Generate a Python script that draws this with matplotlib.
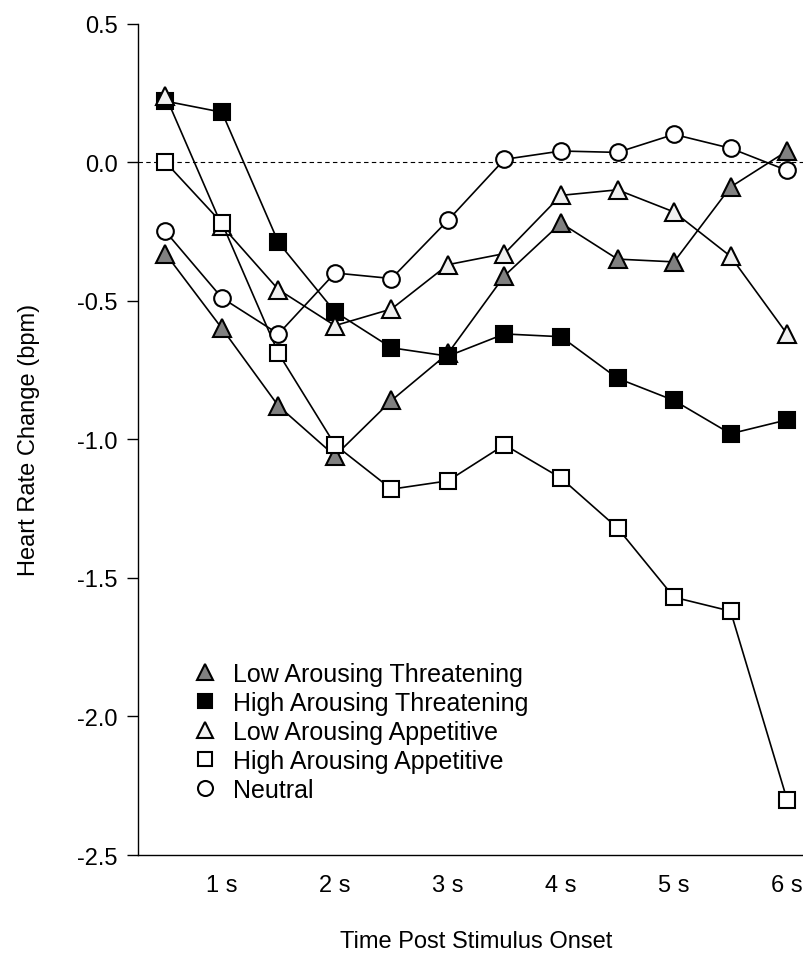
import numpy as np
import matplotlib
matplotlib.use('Agg')
import matplotlib.pyplot as plt

plt.rcParams['font.family'] = ['Liberation Sans', 'DejaVu Sans']
plt.rcParams['axes.unicode_minus'] = False

# time after stimulus onset (s), half second bins
time = [0.5, 1.0, 1.5, 2.0, 2.5, 3.0, 3.5, 4.0, 4.5, 5.0, 5.5, 6.0]

low_threat = [-0.33, -0.60, -0.88, -1.06, -0.86, -0.69, -0.41, -0.22, -0.35, -0.36, -0.09, 0.04]
high_threat = [0.22, 0.18, -0.29, -0.54, -0.67, -0.70, -0.62, -0.63, -0.78, -0.86, -0.98, -0.93]
low_appet = [0.24, -0.23, -0.46, -0.59, -0.53, -0.37, -0.33, -0.12, -0.10, -0.18, -0.34, -0.62]
high_appet = [0.00, -0.22, -0.69, -1.02, -1.18, -1.15, -1.02, -1.14, -1.32, -1.57, -1.62, -2.30]
neutral = [-0.25, -0.49, -0.62, -0.40, -0.42, -0.21, 0.01, 0.04, 0.035, 0.10, 0.05, -0.03]

xtick_pos = [1, 2, 3, 4, 5, 6]
xtick_labels = ['1 s', '2 s', '3 s', '4 s', '5 s', '6 s']
ytick_pos = [0.5, 0.0, -0.5, -1.0, -1.5, -2.0, -2.5]

series = [
    ('Low Arousing Threatening', low_threat, '^', '#808080', 13),
    ('High Arousing Threatening', high_threat, 's', 'black', 11),
    ('Low Arousing Appetitive', low_appet, '^', '#f0f0f0', 13),
    ('High Arousing Appetitive', high_appet, 's', 'white', 11),
    ('Neutral', neutral, 'o', 'white', 12),
]

fig = plt.figure(figsize=(8.04, 9.54), dpi=100)
ax = fig.add_axes([0.1716, 0.1027, 0.8284, 0.8716])

ax.axhline(0, color='black', lw=0.8, ls=(0, (4, 3)), zorder=1)

# later series sit on top of earlier ones
for i, (name, vals, mk, fc, ms) in enumerate(series):
    ax.plot(time, vals, color='black', lw=1.2, marker=mk, markersize=ms,
            markerfacecolor=fc, markeredgecolor='black', markeredgewidth=1.5,
            label=name, zorder=2 + i)

ax.set_xlim(0.257, 6.15)
ax.set_ylim(-2.5, 0.5)
ax.set_xticks(xtick_pos)
ax.set_xticklabels(xtick_labels)
ax.set_yticks(ytick_pos)
ax.set_yticklabels(['%.1f' % v for v in ytick_pos])
ax.tick_params(axis='x', length=0, pad=14, labelsize=17)
ax.tick_params(axis='y', length=8, width=1, direction='out', pad=6.5, labelsize=17)

for side in ['top', 'right']:
    ax.spines[side].set_visible(False)
for side in ['left', 'bottom']:
    ax.spines[side].set_linewidth(1.0)

ax.set_xlabel('Time Post Stimulus Onset', fontsize=17, va='center')
ax.xaxis.set_label_coords(0.5075, -0.1034)
ax.set_ylabel('Heart Rate Change (bpm)', fontsize=17, va='center')
ax.yaxis.set_label_coords(-0.164, 0.5)

leg_handles = []
for name, vals, mk, fc, ms in series:
    leg_handles.append(plt.Line2D([], [], ls='none', marker=mk, markersize=ms * 0.9,
                                  markerfacecolor=fc, markeredgecolor='black',
                                  markeredgewidth=1.5))
ax.legend(leg_handles, [s[0] for s in series], loc='upper left',
          bbox_to_anchor=(0.0825, 0.232), frameon=False, fontsize=18,
          handlelength=1.0, handletextpad=0.6, labelspacing=0.2,
          borderaxespad=0, borderpad=0)

fig.savefig('out.png', dpi=100)
